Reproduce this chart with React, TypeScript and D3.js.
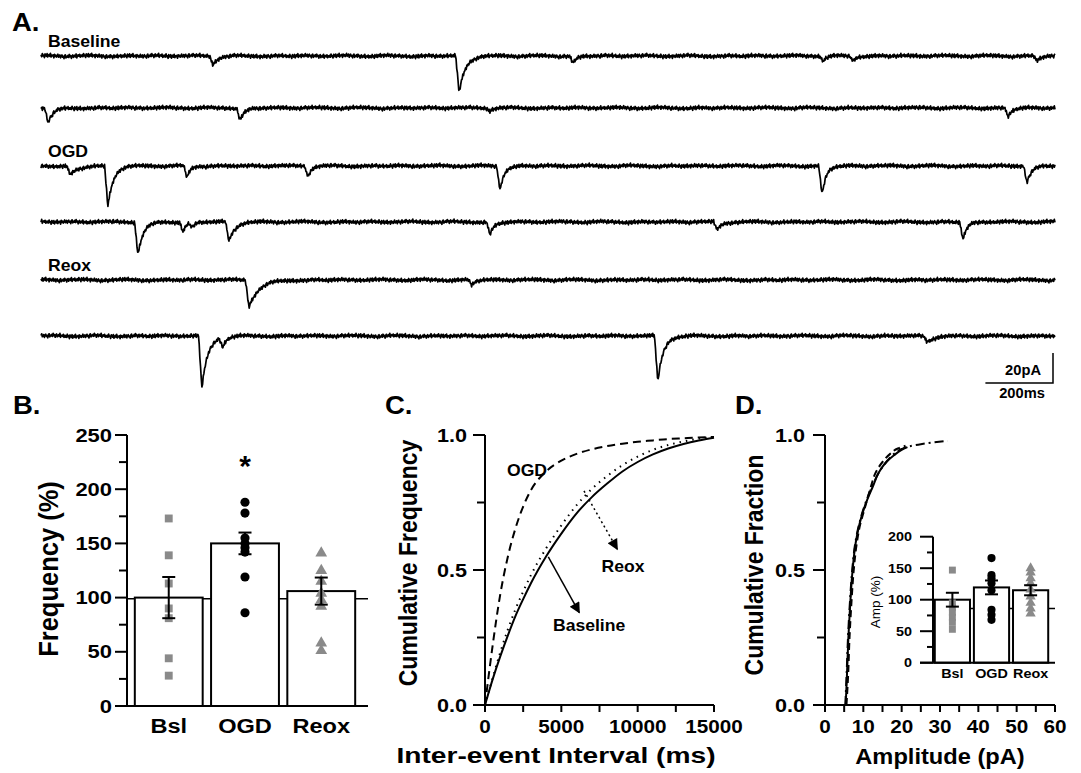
import React from 'react';
import * as d3 from 'd3';

// ---------- A: example traces ----------
// each event: [peak time (ms), amplitude (pA), decay tau (ms)]
const baseline1 = [[509, 6, 14], [1237, 25, 18], [1574, 4.7, 12], [2314, 3.3, 10], [2402, 3.3, 10], [2947, 3.3, 12]];
const baseline2 = [[21, 10, 16], [589, 8, 14], [1328, 2, 10], [2861, 6, 12]];
const ogd1 = [[86, 6, 25], [198, 27, 16], [432, 8, 10], [790, 7, 10], [1358, 16, 12], [2311, 19.5, 12], [2917, 11.5, 14]];
const ogd2 = [[287, 22, 16], [420, 6.5, 10], [447, 3.5, 10], [556, 13, 18], [1328, 8.5, 14], [2000, 5.5, 14], [2728, 12, 12]];
const reox1 = [[615, 18, 30], [1275, 3.5, 10]];
const reox2 = [[476, 35, 18], [538, 6.5, 10], [1825, 31, 16], [2621, 4, 25]];
const traceRows = [baseline1, baseline2, ogd1, ogd2, reox1, reox2];
const traceLabels = ['Baseline', '', 'OGD', '', 'Reox', ''];

// recording noise (pA), read as a rough pattern from the traces
const noiseFast = [0.3, -0.5, 0.8, -0.2, 0.1, -0.9, 0.6, 0.2, -0.4, 0.7, -0.7, 0.0, 0.5, -0.3, 0.9, -0.6, 0.2, -0.1, 0.4, -0.8,
  0.6, -0.2, 0.3, -0.5, 0.1, 0.8, -0.4, -0.1, 0.5, -0.7, 0.2, 0.6, -0.3, 0.0, -0.9, 0.4, 0.7, -0.6, 0.1, -0.2,
  0.5, -0.4, 0.8, -0.1, 0.3, -0.8, 0.2, 0.6, -0.5, 0.0, 0.4, -0.3, 0.9, -0.7, 0.1, 0.3, -0.2, 0.6, -0.6, 0.2, -0.4];
const noiseSlow = [0.4, 0.5, 0.3, 0.1, -0.1, -0.3, -0.4, -0.3, -0.1, 0.2, 0.4, 0.5, 0.4, 0.2, 0.0, -0.2, -0.4, -0.5, -0.3,
  -0.1, 0.1, 0.3, 0.2, 0.0, -0.2, -0.1, 0.1, 0.3, 0.4, 0.3, 0.1, -0.1, -0.3, -0.2, 0.0, 0.2, 0.3];

// ---------- B: frequency (%) ----------
const groups = ['Bsl', 'OGD', 'Reox'];
const freqMean = [100, 150, 106];
const freqSem = [19, 10, 12.5];
const freqBsl = [173, 139, 113, 90, 81, 44, 28];
const freqOGD = [188, 178, 155, 150, 146, 142, 119, 86];
const freqReox = [141, 125, 115, 104, 98, 92, 58, 51];
const freqTicks = [0, 50, 100, 150, 200, 250];

// ---------- C: inter-event interval CDF ----------
const ieiMs = [0, 500, 1000, 1500, 2000, 2500, 3000, 4000, 5000, 6000, 7000, 8000, 9000, 10000, 11000, 12000, 13000, 14000, 15000];
const ieiBaseline = [0, 0.095, 0.18, 0.258, 0.33, 0.392, 0.45, 0.55, 0.635, 0.71, 0.77, 0.82, 0.865, 0.9, 0.928, 0.95, 0.967, 0.98, 0.99];
const ieiOGD = [0, 0.22, 0.41, 0.55, 0.655, 0.735, 0.795, 0.865, 0.905, 0.93, 0.947, 0.959, 0.968, 0.975, 0.98, 0.985, 0.988, 0.991, 0.993];
const ieiReox = [0, 0.1, 0.195, 0.28, 0.355, 0.42, 0.48, 0.58, 0.665, 0.74, 0.8, 0.848, 0.888, 0.92, 0.945, 0.963, 0.976, 0.986, 0.992];

// ---------- D: amplitude CDF ----------
const ampBaseline = [[5.4, 0], [5.7, 0.1], [6.1, 0.25], [6.6, 0.38], [7.2, 0.5], [8, 0.6], [9, 0.67], [10, 0.72], [11, 0.76],
  [12.5, 0.81], [14, 0.86], [16, 0.9], [18, 0.925], [20, 0.945], [21.5, 0.955]];
const ampOGD = [[5.6, 0], [6, 0.1], [6.4, 0.25], [6.9, 0.38], [7.5, 0.5], [8.3, 0.6], [9.2, 0.67], [10.2, 0.72], [11, 0.76],
  [12, 0.81], [13.2, 0.86], [15, 0.9], [17, 0.93], [19, 0.95], [21, 0.96]];
const ampReox = [[5.3, 0], [5.6, 0.1], [6, 0.25], [6.5, 0.38], [7.1, 0.5], [7.9, 0.6], [8.9, 0.67], [9.9, 0.72], [11, 0.765],
  [12.5, 0.815], [14, 0.86], [16, 0.9], [18, 0.93], [20, 0.948], [22, 0.958], [25, 0.966], [28, 0.972], [32, 0.978]];

// inset: amplitude (%)
const ampMean = [100, 119.5, 115];
const ampSem = [11, 11, 8];
const ampBsl = [147, 95, 88, 80, 72, 64, 53];
const ampOGDpts = [166, 139, 134, 126, 115, 84, 76, 68];
const ampReoxPts = [150, 143, 134, 126, 116, 105, 95, 86, 78];
const ampTicks = [0, 50, 100, 150, 200];

const FONT = '"Liberation Sans", Arial, Helvetica, sans-serif';
const GRAY = '#8a8a8a';

function Txt({ x, y, children, size = 16, anchor = 'start', sx = 1, rot = 0, weight = 'bold' }: any) {
  return (
    <text transform={`translate(${x},${y}) scale(${sx},1) rotate(${rot})`} fontSize={size} fontWeight={weight}
      textAnchor={anchor} fontFamily={FONT} fill="#000">{children}</text>
  );
}

function traceValue(events: number[][], t: number) {
  let v = 0;
  for (const [tp, a, tau] of events) {
    const rise = 10;
    if (t < tp - rise) continue;
    if (t <= tp) v -= a * (t - (tp - rise)) / rise;
    else v -= a * Math.exp(-(t - tp) / tau);
  }
  return v;
}

function Marker({ kind, x, y, big }: any) {
  const type = kind === 0 ? d3.symbolSquare : kind === 1 ? d3.symbolCircle : d3.symbolTriangle;
  const size = kind === 0 ? (big ? 62 : 48) : kind === 1 ? (big ? 66 : 52) : (big ? 60 : 46);
  const p = d3.symbol().type(type).size(size)();
  return <path d={p!} transform={`translate(${x},${y})`} fill={kind === 1 ? '#000' : GRAY} />;
}

export default function App() {
  // ---- A ----
  const tx = d3.scaleLinear().domain([0, 3000]).range([41, 1055]);
  const rowBase = [56, 108, 166, 222, 280, 336];
  const times = d3.range(0, 3001, 2);
  const tracePaths = traceRows.map((ev, r) => {
    const ty = d3.scaleLinear().domain([0, -20]).range([rowBase[r], rowBase[r] + 30]);
    const line = d3.line<number>()
      .x(t => tx(t))
      .y((t, i) => ty(traceValue(ev, t)
        + noiseFast[(i + r * 17) % noiseFast.length] * 1.6
        + noiseSlow[Math.floor(i / 6 + r * 7) % noiseSlow.length] * 0.9));
    return line(times);
  });
  const sbY = d3.scaleLinear().domain([0, 20]).range([383, 353]);
  const sbX0 = 1053 - (tx(200) - tx(0));

  // ---- B ----
  const yB = d3.scaleLinear().domain([0, 250]).range([706, 435]);
  const xB = d3.scaleBand<string>().domain(groups).range([131, 359]).paddingInner(0.11).paddingOuter(0.05);
  const bwB = xB.bandwidth();
  const freqPts = [freqBsl, freqOGD, freqReox];

  // ---- C ----
  const xC = d3.scaleLinear().domain([0, 15000]).range([485, 714]);
  const yC = d3.scaleLinear().domain([0, 1]).range([705, 435]);
  const lineC = d3.line<number>().x((d, i) => xC(ieiMs[i])).y(d => yC(d)).curve(d3.curveMonotoneX);

  // ---- D ----
  const xD = d3.scaleLinear().domain([0, 60]).range([825, 1055]);
  const yD = d3.scaleLinear().domain([0, 1]).range([705, 435]);
  const lineD = d3.line<number[]>().x(d => xD(d[0])).y(d => yD(d[1])).curve(d3.curveMonotoneY);
  const yI = d3.scaleLinear().domain([0, 200]).range([662.7, 536.7]);
  const xI = d3.scaleBand<string>().domain(groups).range([934, 1049]).paddingInner(0.1).paddingOuter(0.02);
  const bwI = xI.bandwidth();
  const ampPts = [ampBsl, ampOGDpts, ampReoxPts];

  const sw = 2;

  return (
    <svg width={1081} height={773} style={{ position: 'absolute', left: 0, top: 0, background: '#fff' }}>
      <defs>
        <marker id="arr" viewBox="0 0 10 10" refX="9" refY="5" markerWidth="15" markerHeight="11"
          markerUnits="userSpaceOnUse" orient="auto">
          <path d="M0,0 L10,5 L0,10 Z" fill="#000" />
        </marker>
      </defs>

      {/* ---------------- A ---------------- */}
      <Txt x={12} y={31} size={25} sx={1.1}>A.</Txt>
      {traceLabels.map((l, i) => l ? <Txt key={l} x={48} y={rowBase[i] - 9} size={16} sx={1.1}>{l}</Txt> : null)}
      {tracePaths.map((p, i) => <path key={i} d={p!} fill="none" stroke="#000" strokeWidth={1.7} strokeLinejoin="round" />)}
      <path d={`M${sbX0},${sbY(0)} H1053 V${sbY(20)}`} fill="none" stroke="#000" strokeWidth={1.5} />
      <Txt x={1041} y={375} size={14} anchor="end" sx={1.05}>20pA</Txt>
      <Txt x={1022} y={398} size={14} anchor="middle" sx={1.05}>200ms</Txt>

      {/* ---------------- B ---------------- */}
      <Txt x={13} y={414} size={25} sx={1.1}>B.</Txt>
      <line x1={127} x2={368} y1={yB(99)} y2={yB(99)} stroke="#000" strokeWidth={1.5} />
      {groups.map((g, i) => (
        <rect key={g} x={xB(g)} y={yB(freqMean[i])} width={bwB} height={yB(0) - yB(freqMean[i])}
          fill="#fff" stroke="#000" strokeWidth={sw} />
      ))}
      {freqPts.map((arr, k) => arr.map((v, j) => (
        <Marker key={k + '-' + j} kind={k} x={xB(groups[k])! + bwB / 2} y={yB(v)} big />
      )))}
      {groups.map((g, i) => {
        const cx = xB(g)! + bwB / 2;
        const lo = yB(freqMean[i] - freqSem[i]), hi = yB(freqMean[i] + freqSem[i]);
        return (
          <g key={g} stroke="#000" strokeWidth={sw}>
            <line x1={cx} x2={cx} y1={lo} y2={hi} />
            <line x1={cx - 6.5} x2={cx + 6.5} y1={lo} y2={lo} />
            <line x1={cx - 6.5} x2={cx + 6.5} y1={hi} y2={hi} />
          </g>
        );
      })}
      <Txt x={xB('OGD')! + bwB / 2} y={yB(228) + 17} size={30} anchor="middle">*</Txt>
      <g stroke="#000" strokeWidth={sw}>
        <line x1={127} x2={127} y1={yB(250)} y2={yB(0)} />
        <line x1={115} x2={368} y1={yB(0)} y2={yB(0)} />
        {d3.range(0, 251, 25).map(t => (
          <line key={t} x1={t % 50 === 0 ? 115 : 119} x2={127} y1={yB(t)} y2={yB(t)} />
        ))}
      </g>
      {freqTicks.map(t => <Txt key={t} x={112} y={yB(t) + 6.5} size={18} anchor="end" sx={1.22}>{t}</Txt>)}
      {groups.map(g => <Txt key={g} x={xB(g)! + bwB / 2} y={733} size={20.5} anchor="middle" sx={1.15}>{g}</Txt>)}
      <Txt x={58} y={569} size={25.5} anchor="middle" rot={-90} sx={1.12}>Frequency (%)</Txt>

      {/* ---------------- C ---------------- */}
      <Txt x={385} y={414} size={25} sx={1.1}>C.</Txt>
      <path d={lineC(ieiOGD)!} fill="none" stroke="#000" strokeWidth={2} strokeDasharray="8,5" />
      <path d={lineC(ieiReox)!} fill="none" stroke="#000" strokeWidth={2} strokeDasharray="1.5,5" />
      <path d={lineC(ieiBaseline)!} fill="none" stroke="#000" strokeWidth={2} />
      <g stroke="#000" strokeWidth={sw}>
        <line x1={xC(0)} x2={xC(0)} y1={yC(1)} y2={yC(0)} />
        <line x1={xC(0)} x2={xC(15000)} y1={yC(0)} y2={yC(0)} />
        {d3.range(0, 15001, 2500).map(t => <line key={t} x1={xC(t)} x2={xC(t)} y1={yC(0)} y2={yC(0) + 7} />)}
        {d3.range(0, 1.01, 0.25).map(t => (
          <line key={t} x1={xC(0) - (t % 0.5 === 0 ? 12 : 8)} x2={xC(0)} y1={yC(t)} y2={yC(t)} />
        ))}
      </g>
      {[0, 0.5, 1].map(t => <Txt key={t} x={467} y={yC(t) + 6.5} size={18} anchor="end" sx={1.2}>{t.toFixed(1)}</Txt>)}
      {[0, 5000, 10000, 15000].map(t => <Txt key={t} x={xC(t)} y={733} size={18} anchor="middle" sx={1.15}>{t}</Txt>)}
      <Txt x={556} y={763} size={22} anchor="middle" sx={1.28}>Inter-event Interval (ms)</Txt>
      <Txt x={417} y={563} size={23} anchor="middle" rot={-90} sx={1.1}>Cumulative Frequency</Txt>
      <Txt x={xC(1441)} y={yC(0.848)} size={16} sx={1.1}>OGD</Txt>
      <Txt x={xC(7630)} y={yC(0.493)} size={16} sx={1.1}>Reox</Txt>
      <Txt x={xC(4450)} y={yC(0.274)} size={16} sx={1.1}>Baseline</Txt>
      <line x1={xC(4146)} y1={yC(0.549)} x2={xC(6176)} y2={yC(0.342)} stroke="#000" strokeWidth={1.5} markerEnd="url(#arr)" />
      <line x1={xC(6484)} y1={yC(0.793)} x2={xC(8666)} y2={yC(0.577)} stroke="#000" strokeWidth={1.5}
        strokeDasharray="2,3" markerEnd="url(#arr)" />

      {/* ---------------- D ---------------- */}
      <Txt x={735} y={414} size={25} sx={1.1}>D.</Txt>
      <path d={lineD(ampReox)!} fill="none" stroke="#000" strokeWidth={2} strokeDasharray="9,4,2,4" />
      <path d={lineD(ampOGD)!} fill="none" stroke="#000" strokeWidth={2} strokeDasharray="7,4" />
      <path d={lineD(ampBaseline)!} fill="none" stroke="#000" strokeWidth={2} />
      <g stroke="#000" strokeWidth={sw}>
        <line x1={xD(0)} x2={xD(0)} y1={yD(1)} y2={yD(0)} />
        <line x1={xD(0)} x2={xD(60)} y1={yD(0)} y2={yD(0)} />
        {d3.range(0, 61, 5).map(t => <line key={t} x1={xD(t)} x2={xD(t)} y1={yD(0)} y2={yD(0) + 7} />)}
        {d3.range(0, 1.01, 0.25).map(t => (
          <line key={t} x1={xD(0) - (t % 0.5 === 0 ? 12 : 8)} x2={xD(0)} y1={yD(t)} y2={yD(t)} />
        ))}
      </g>
      {[0, 0.5, 1].map(t => <Txt key={t} x={805} y={yD(t) + 6.5} size={18} anchor="end" sx={1.2}>{t.toFixed(1)}</Txt>)}
      {d3.range(0, 61, 10).map(t => <Txt key={t} x={xD(t)} y={733} size={18} anchor="middle" sx={1.15}>{t}</Txt>)}
      <Txt x={940} y={764} size={21.5} anchor="middle" sx={1.1}>Amplitude (pA)</Txt>
      <Txt x={763} y={565} size={23} anchor="middle" rot={-90} sx={1.1}>Cumulative Fraction</Txt>

      {/* inset */}
      <line x1={933} x2={1055} y1={yI(86)} y2={yI(86)} stroke="#000" strokeWidth={1.3} />
      {groups.map((g, i) => (
        <rect key={g} x={xI(g)} y={yI(ampMean[i])} width={bwI} height={yI(0) - yI(ampMean[i])}
          fill="#fff" stroke="#000" strokeWidth={sw} />
      ))}
      {ampPts.map((arr, k) => arr.map((v, j) => (
        <Marker key={k + '-' + j} kind={k} x={xI(groups[k])! + bwI / 2} y={yI(v)} />
      )))}
      {groups.map((g, i) => {
        const cx = xI(g)! + bwI / 2;
        const lo = yI(ampMean[i] - ampSem[i]), hi = yI(ampMean[i] + ampSem[i]);
        return (
          <g key={g} stroke="#000" strokeWidth={sw}>
            <line x1={cx} x2={cx} y1={lo} y2={hi} />
            <line x1={cx - 6.5} x2={cx + 6.5} y1={lo} y2={lo} />
            <line x1={cx - 6.5} x2={cx + 6.5} y1={hi} y2={hi} />
          </g>
        );
      })}
      <g stroke="#000" strokeWidth={sw}>
        <line x1={933} x2={933} y1={yI(200)} y2={yI(0)} />
        <line x1={920} x2={1055} y1={yI(0)} y2={yI(0)} />
        {d3.range(0, 201, 25).map(t => (
          <line key={t} x1={t % 50 === 0 ? 920 : 927} x2={933} y1={yI(t)} y2={yI(t)} />
        ))}
      </g>
      {ampTicks.map(t => <Txt key={t} x={912} y={yI(t) + 4.5} size={12.5} anchor="end" sx={1.15}>{t}</Txt>)}
      {groups.map(g => <Txt key={g} x={xI(g)! + bwI / 2} y={678} size={12.5} anchor="middle" sx={1.15}>{g}</Txt>)}
      <Txt x={880} y={602} size={13.5} anchor="middle" rot={-90} weight="normal">Amp (%)</Txt>
    </svg>
  );
}
